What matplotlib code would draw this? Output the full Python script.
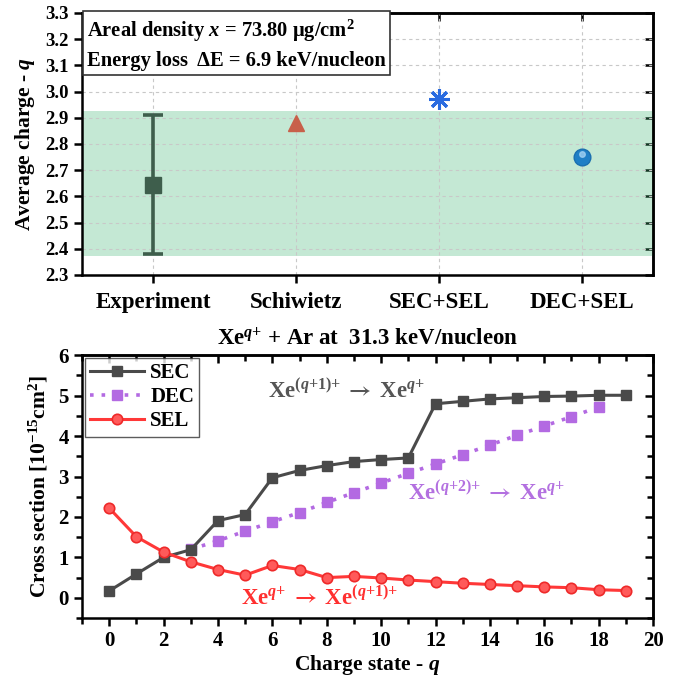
import numpy as np
import matplotlib
matplotlib.use("Agg")
import matplotlib.pyplot as plt
from matplotlib.ticker import MultipleLocator, FormatStrFormatter

plt.rcParams['font.family'] = ['Liberation Serif', 'DejaVu Serif']
plt.rcParams['font.weight'] = 'bold'
plt.rcParams['mathtext.fontset'] = 'custom'
plt.rcParams['mathtext.rm'] = 'Liberation Serif:bold'
plt.rcParams['mathtext.bf'] = 'Liberation Serif:bold'
plt.rcParams['mathtext.it'] = 'Liberation Serif:italic:bold'
plt.rcParams['mathtext.sf'] = 'STIXGeneral'
plt.rcParams['axes.linewidth'] = 1.8

# ---------------- data: top panel ----------------
models = ["Experiment", "Schiwietz", "SEC+SEL", "DEC+SEL"]
exp_q = 2.645
exp_err_low = 2.38
exp_err_high = 2.91
schiwietz_q = 2.88
sec_sel_q = 2.97
dec_sel_q = 2.75
band_low = 2.372
band_high = 2.925

# ---------------- data: bottom panel ----------------
q_sec = list(range(0, 20))
sec = [0.17, 0.59, 1.00, 1.19, 1.91, 2.06, 2.97, 3.15, 3.27, 3.37,
       3.42, 3.46, 4.80, 4.86, 4.92, 4.95, 4.98, 4.99, 5.01, 5.01]
q_dec = list(range(3, 19))
dec = [1.20, 1.41, 1.65, 1.88, 2.11, 2.36, 2.60, 2.84, 3.08, 3.31,
       3.54, 3.78, 4.02, 4.25, 4.48, 4.72]
q_sel = list(range(0, 20))
sel = [2.22, 1.51, 1.13, 0.89, 0.70, 0.56, 0.80, 0.70, 0.50, 0.53,
       0.49, 0.44, 0.40, 0.36, 0.33, 0.30, 0.27, 0.25, 0.20, 0.18]

c_sec = '#4a4a4a'
c_dec = '#b36ae2'
c_sel = '#ff3838'
LW = 1.8

fig = plt.figure(figsize=(6.75, 6.79), dpi=100)
ax1 = fig.add_axes([0.1215, 0.595, 0.846, 0.386])
ax2 = fig.add_axes([0.1215, 0.0898, 0.846, 0.387])

# ---------------- top panel ----------------
xpos = np.arange(len(models))
ax1.axhspan(band_low, band_high, color='#3cb371', alpha=0.3, lw=0, zorder=1)
ax1.grid(True, ls=(0, (3, 3)), color='#c8c8c8', lw=0.8, zorder=0)
ax1.errorbar([xpos[0]], [exp_q],
             yerr=[[exp_q - exp_err_low], [exp_err_high - exp_q]],
             fmt='s', color='#3e5e4c', ms=11, elinewidth=2.6, capsize=7,
             capthick=2.6, zorder=5)
ax1.plot([xpos[1]], [schiwietz_q], marker='^', ms=12, color='#c8604a',
         ls='none', zorder=5)
ax1.plot([xpos[2]], [sec_sel_q], marker=(8, 2, 0), ms=15, color='#2a6be0',
         mew=2.2, ls='none', zorder=5)
ax1.plot([xpos[3]], [dec_sel_q], marker='o', ms=12, color='#1f7fc6',
         mec='#1a6fb0', ls='none', zorder=5)
ax1.plot([xpos[3]], [dec_sel_q + 0.012], marker='o', ms=4, color='#9fd0f2',
         ls='none', zorder=6, alpha=0.8)

ax1.set_xlim(-0.5, 3.5)
ax1.set_ylim(2.3, 3.3)
ax1.set_xticks(xpos)
ax1.set_xticklabels(models, fontsize=16.5, fontweight='bold')
ax1.yaxis.set_major_locator(MultipleLocator(0.1))
ax1.yaxis.set_major_formatter(FormatStrFormatter('%.1f'))
ax1.tick_params(axis='both', which='major', direction='out', length=6,
                width=LW, labelsize=13.5)
ax1.tick_params(axis='x', pad=6, labelsize=16.5)
ax1.set_ylabel(r"Average charge - $q$", fontsize=15.5, fontweight='bold',
               labelpad=6)
for lab in ax1.get_yticklabels():
    lab.set_fontweight('bold')

secx = ax1.secondary_xaxis('top')
secx.set_xticks(xpos)
secx.tick_params(direction='in', length=6, width=LW, labelbottom=False,
                 labeltop=False)
secx.spines['top'].set_linewidth(LW)
secy = ax1.secondary_yaxis('right')
secy.yaxis.set_major_locator(MultipleLocator(0.1))
secy.tick_params(direction='in', length=6, width=LW, labelright=False)
secy.spines['right'].set_linewidth(LW)

ax1.text(0.009, 0.982,
         "Areal density $x$ = 73.80 \u03bcg/cm$^{2}$\nEnergy loss  \u0394E = 6.9 keV/nucleon",
         transform=ax1.transAxes, ha='left', va='top', fontsize=14.8,
         fontweight='bold', linespacing=1.45,
         bbox=dict(boxstyle='square,pad=0.22', fc='white', ec='#333333',
                   lw=1.2), zorder=10)

# ---------------- bottom panel ----------------
ax2.plot(q_sec, sec, '-s', color=c_sec, lw=2.2, ms=6.5, label='SEC', zorder=4)
ax2.plot(q_dec, dec, ls=(0, (1, 2.2)), marker='s', color=c_dec, lw=2.6,
         ms=7, label='DEC', zorder=3)
ax2.plot(q_sel, sel, '-o', color=c_sel, lw=2.2, ms=7.5, mfc='#ff5a5a',
         mec='#ee2a2a', mew=1.2, label='SEL', zorder=5)

ax2.set_xlim(-1, 20)
ax2.set_ylim(-0.5, 6)
ax2.xaxis.set_major_locator(MultipleLocator(2))
ax2.xaxis.set_minor_locator(MultipleLocator(1))
ax2.yaxis.set_major_locator(MultipleLocator(1))
ax2.yaxis.set_minor_locator(MultipleLocator(0.5))
ax2.tick_params(axis='both', which='major', direction='out', length=6,
                width=LW, labelsize=15)
ax2.tick_params(axis='both', which='minor', direction='out', length=4,
                width=LW)
for lab in ax2.get_xticklabels() + ax2.get_yticklabels():
    lab.set_fontweight('bold')

secx2 = ax2.secondary_xaxis('top')
secx2.xaxis.set_major_locator(MultipleLocator(2))
secx2.xaxis.set_minor_locator(MultipleLocator(1))
secx2.tick_params(which='major', direction='in', length=6, width=LW,
                  labeltop=False)
secx2.tick_params(which='minor', direction='in', length=4, width=LW)
secx2.spines['top'].set_linewidth(LW)
secy2 = ax2.secondary_yaxis('right')
secy2.yaxis.set_major_locator(MultipleLocator(1))
secy2.yaxis.set_minor_locator(MultipleLocator(0.5))
secy2.tick_params(which='major', direction='in', length=6, width=LW,
                  labelright=False)
secy2.tick_params(which='minor', direction='in', length=4, width=LW)
secy2.spines['right'].set_linewidth(LW)

ax2.set_xlabel(r"Charge state - $q$", fontsize=15.5, fontweight='bold',
               labelpad=1)
ax2.set_ylabel(r"Cross section [10$^{-15}$cm$^{2}$]", fontsize=15.5,
               fontweight='bold', labelpad=6)
ax2.set_title(r"Xe$^{q{+}}$ + Ar at  31.3 keV/nucleon", fontsize=16.5,
              fontweight='bold', pad=7)

leg = ax2.legend(loc='upper left', fontsize=15, handlelength=2.6,
                 borderaxespad=0.12, frameon=True, fancybox=False,
                 edgecolor='#333333', labelspacing=0.2, borderpad=0.25,
                 handletextpad=0.3)
leg.get_frame().set_linewidth(1.0)
for t in leg.get_texts():
    t.set_fontweight('bold')

arrow = r"\;\mathsf{\rightarrow}\;"
ax2.text(5.85, 5.12, "Xe$^{(q{+}1){+}}" + arrow + "$Xe$^{q{+}}$",
         color='#555555', fontsize=16.5, fontweight='bold', ha='left',
         va='center')
ax2.text(11.0, 2.58, "Xe$^{(q{+}2){+}}" + arrow + "$Xe$^{q{+}}$",
         color='#b370e0', fontsize=16.5, fontweight='bold', ha='left',
         va='center')
ax2.text(4.85, 0.0, "Xe$^{q{+}}" + arrow + "$Xe$^{(q{+}1){+}}$",
         color='#ff3030', fontsize=16.5, fontweight='bold', ha='left',
         va='center')

fig.savefig("out.png", dpi=100)
